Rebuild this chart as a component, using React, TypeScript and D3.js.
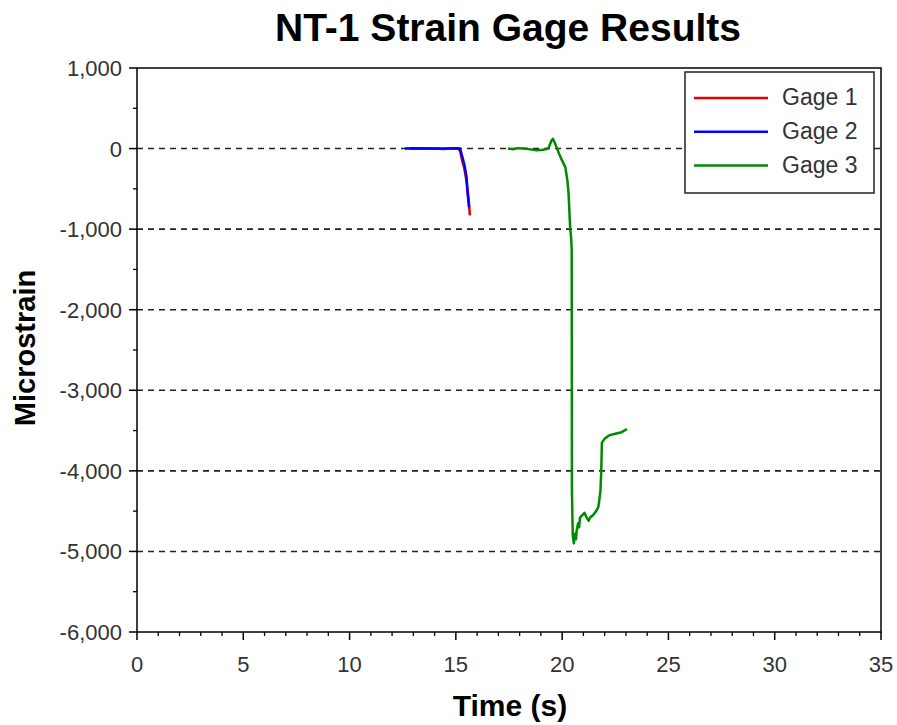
import React from "react";
import * as d3 from "d3";

const gage1T = [12.8, 13.2, 13.6, 14.0, 14.4, 14.8, 15.1, 15.2, 15.3, 15.4, 15.5, 15.6, 15.66];
const gage1V = [0, 5, 0, 0, -5, 0, 0, -30, -150, -250, -400, -620, -830];
const gage2T = [12.6, 13.0, 13.4, 13.8, 14.2, 14.6, 15.0, 15.2, 15.3, 15.4, 15.5, 15.55, 15.62];
const gage2V = [0, 5, 0, 0, 0, 0, 5, 0, -100, -200, -350, -550, -730];
const gage3T = [17.45, 17.7, 17.9, 18.2, 18.5, 18.8, 19.1, 19.35, 19.5, 19.57, 19.7, 19.85, 20.0, 20.15, 20.25, 20.3, 20.38, 20.42, 20.45, 20.46, 20.5, 20.55, 20.6, 20.65, 20.68, 20.75, 20.8, 20.84, 20.95, 21.05, 21.15, 21.25, 21.31, 21.45, 21.6, 21.7, 21.73, 21.8, 21.84, 21.87, 22.0, 22.2, 22.5, 22.8, 23.05];
const gage3V = [0, -10, 5, 0, -10, -20, -15, 0, 100, 120, 40, -60, -150, -230, -400, -550, -1000, -1100, -1250, -4250, -4800, -4900, -4780, -4850, -4750, -4650, -4700, -4580, -4550, -4520, -4580, -4620, -4580, -4550, -4500, -4450, -4400, -4250, -4000, -3650, -3600, -3560, -3540, -3520, -3480];

const seriesNames = ["Gage 1", "Gage 2", "Gage 3"];
const seriesColors = ["#e00000", "#0000ff", "#008a00"];
const xTicks = [0, 5, 10, 15, 20, 25, 30, 35];
const yTicks = [1000, 0, -1000, -2000, -3000, -4000, -5000, -6000];
const gridValues = [0, -1000, -2000, -3000, -4000, -5000];

export default function App() {
  const W = 897, H = 725;
  const L = 137, R = 881, T = 68, B = 632;
  const x = d3.scaleLinear().domain([0, 35]).range([L, R]);
  const y = d3.scaleLinear().domain([-6000, 1000]).range([B, T]);
  const line = d3.line<[number, number]>().x(d => x(d[0])).y(d => y(d[1]));
  const series = [
    gage1T.map((t, i) => [t, gage1V[i]] as [number, number]),
    gage2T.map((t, i) => [t, gage2V[i]] as [number, number]),
    gage3T.map((t, i) => [t, gage3V[i]] as [number, number]),
  ];
  const f = d3.format(",");
  const fmt = (v: number) => (v < 0 ? "-" + f(-v) : f(v));
  const xMinor = d3.range(0, 36, 1).filter(v => v % 5 !== 0);
  const yMinor = d3.range(-6000, 1001, 500).filter(v => v % 1000 !== 0);
  const font = "Liberation Sans, Arial, sans-serif";

  return (
    <svg width={W} height={H} style={{ position: "absolute", left: 0, top: 0, background: "#fff" }} fontFamily={font}>
      <rect x={0} y={0} width={W} height={H} fill="#fff" />
      <text x={508} y={41} textAnchor="middle" fontSize={39} fontWeight="bold">NT-1 Strain Gage Results</text>
      {gridValues.map(v => (
        <line key={v} x1={L} x2={R} y1={y(v)} y2={y(v)} stroke="#222" strokeWidth={1.6} strokeDasharray="6,5" />
      ))}
      {series.map((s, i) => (
        <path key={i} d={line(s) || ""} fill="none" stroke={seriesColors[i]} strokeWidth={2.5} strokeLinejoin="round" />
      ))}
      <rect x={L} y={T} width={R - L} height={B - T} fill="none" stroke="#000" strokeWidth={1.5} />
      {xTicks.map(v => (
        <g key={v}>
          <line x1={x(v)} x2={x(v)} y1={B} y2={B + 8} stroke="#000" strokeWidth={1.5} />
          <text x={x(v)} y={672} textAnchor="middle" fontSize={22} fill="#333">{v}</text>
        </g>
      ))}
      {xMinor.map(v => (
        <line key={v} x1={x(v)} x2={x(v)} y1={B} y2={B + 4} stroke="#000" strokeWidth={1.3} />
      ))}
      {yTicks.map(v => (
        <g key={v}>
          <line x1={L - 8} x2={L} y1={y(v)} y2={y(v)} stroke="#000" strokeWidth={1.5} />
          <text x={122} y={y(v) + 8} textAnchor="end" fontSize={22} fill="#333">{fmt(v)}</text>
        </g>
      ))}
      {yMinor.map(v => (
        <line key={v} x1={L - 4} x2={L} y1={y(v)} y2={y(v)} stroke="#000" strokeWidth={1.3} />
      ))}
      <text x={510} y={716} textAnchor="middle" fontSize={30} fontWeight="bold">Time (s)</text>
      <text transform={`translate(35,${348}) rotate(-90)`} textAnchor="middle" fontSize={29} fontWeight="bold">Microstrain</text>
      <rect x={685} y={72} width={189} height={121} fill="#fff" stroke="#222" strokeWidth={1.5} />
      {seriesNames.map((n, i) => (
        <g key={n}>
          <line x1={694} x2={768} y1={98 + i * 33.8} y2={98 + i * 33.8} stroke={seriesColors[i]} strokeWidth={2.5} />
          <text x={782} y={105 + i * 34} fontSize={23} fill="#333">{n}</text>
        </g>
      ))}
    </svg>
  );
}
